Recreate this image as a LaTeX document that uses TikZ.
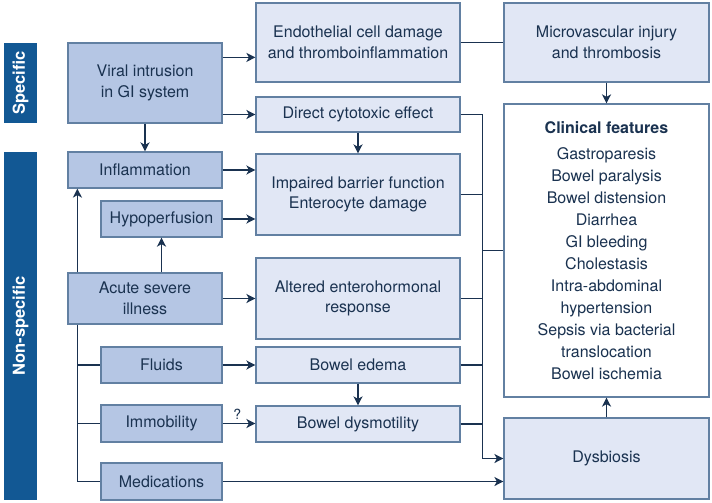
\documentclass[tikz,border=0pt]{standalone}
\usepackage{fontspec}
\setmainfont{TeX Gyre Heros}
\usetikzlibrary{arrows.meta}
\definecolor{band}{RGB}{18,88,148}
\definecolor{darkbox}{RGB}{181,198,228}
\definecolor{lightbox}{RGB}{225,231,245}
\definecolor{edge}{RGB}{98,128,162}
\definecolor{ink}{RGB}{26,50,80}
\newcommand{\linew}{1.7pt}
\newcommand{\boxw}{1.2pt}

\begin{document}
\begin{tikzpicture}[x=1pt,y=-1pt,
    font=\fontsize{16}{20.5}\selectfont, text=ink,
    cause/.style={draw=edge, line width=\boxw, fill=darkbox, align=center, inner sep=0pt},
    effect/.style={draw=edge, line width=\boxw, fill=lightbox, align=center, inner sep=0pt, minimum width=204pt},
    bandbox/.style={fill=band, text=white, inner sep=0pt, minimum height=33pt, rotate=90,
        font=\fontsize{16.5}{20}\selectfont\bfseries},
    arr/.style={draw=ink, line width=\linew, -{Stealth[length=9pt,width=9pt,inset=2.5pt]}},
    link/.style={draw=ink, line width=\linew}]
    %\draw[help lines] (0,0) grid[step=50] (712,503);
    \useasboundingbox (0,0) rectangle (712,503);

    \node[bandbox, minimum width=80pt] (spec) at (20.5,83) {Specific};
    \node[bandbox, minimum width=348pt] (nonspec) at (20.5,326) {Non-specific};

    % causes
    \node[cause, minimum width=154pt, minimum height=80pt] (viral) at (145,83) {Viral intrusion\\in GI system};
    \node[cause, minimum width=154pt, minimum height=36pt] (inflam) at (145,170) {Inflammation};
    \node[cause, minimum width=121pt, minimum height=36pt] (hypo) at (161.5,219) {Hypoperfusion};
    \node[cause, minimum width=154pt, minimum height=51pt] (acute) at (145,298.5) {Acute severe\\illness};
    \node[cause, minimum width=121pt, minimum height=36pt] (fluids) at (161.5,365) {Fluids};
    \node[cause, minimum width=121pt, minimum height=37pt] (immob) at (161.5,423.5) {Immobility};
    \node[cause, minimum width=121pt, minimum height=37pt] (medic) at (161.5,481.5) {Medications};

    % mechanisms
    \node[effect, minimum height=79pt] (endo) at (358,42.5) {Endothelial cell damage\\and thromboinflammation};
    \node[effect, minimum height=35pt] (direct) at (358,114.5) {Direct cytotoxic effect};
    \node[effect, minimum height=81pt] (impaired) at (358,194.5) {Impaired barrier function\\Enterocyte damage};
    \node[effect, minimum height=81pt] (altered) at (358,298.5) {Altered enterohormonal\\response};
    \node[effect, minimum height=36pt] (edema) at (358,365) {Bowel edema};
    \node[effect, minimum height=36pt] (dysmot) at (358,424) {Bowel dysmotility};

    % outcomes
    \node[effect, minimum width=205pt, minimum height=79pt] (micro) at (606.5,42.5) {Microvascular injury\\and thrombosis};
    \node[draw=edge, line width=\boxw, fill=white, align=center, inner sep=0pt,
        minimum width=205pt, minimum height=293pt, font=\fontsize{16}{22}\selectfont]
        (clinical) at (606.5,250.5) {\textbf{Clinical features}\\[4pt]Gastroparesis\\Bowel paralysis\\
        Bowel distension\\Diarrhea\\GI bleeding\\Cholestasis\\Intra-abdominal\\hypertension\\
        Sepsis via bacterial\\translocation\\Bowel ischemia};
    \node[effect, minimum width=205pt, minimum height=81pt] (dysb) at (606.5,458.5) {Dysbiosis};

    \draw[arr] ([yshift=-15pt]viral.north east) coordinate (v1) -- (v1 -| endo.west);
    \draw[arr] (viral.east |- direct.west) -- (direct.west);
    \draw[arr] (viral.south) -- (inflam.north);
    \draw[arr] (inflam.east) -- (inflam.east -| impaired.west);
    \draw[arr] (hypo.east) -- (hypo.east -| impaired.west);
    \draw[arr] (direct.south) -- (impaired.north);
    \draw[arr] (acute.east) -- (altered.west);
    \draw[arr] (acute.north -| hypo.south) -- (hypo.south);
    \draw[arr] ([xshift=10pt]acute.north west) -- ([xshift=10pt]inflam.south west);

    \coordinate (trunk) at ([xshift=10pt]acute.south west);
    \draw[link] (trunk) |- (medic.west);
    \draw[link] (trunk |- fluids.west) -- (fluids.west);
    \draw[link] (trunk |- immob.west) -- (immob.west);

    \draw[arr] (fluids.east) -- (edema.west);
    \draw[arr] (immob.east) -- (immob.east -| dysmot.west)
        node[pos=0.45, above=0pt, font=\fontsize{14}{14}\selectfont] {?};
    \draw[arr] (edema.south) -- (dysmot.north);
    \draw[arr] (medic.east) -- (medic.east -| dysb.west);

    \draw[link] (endo.east) -- (micro.west);
    \draw[arr] (micro.south) -- (clinical.north);
    \draw[arr] (dysb.north) -- (clinical.south);

    \coordinate (bus) at ([xshift=22pt]direct.east);
    \draw[arr] (direct.east) -- (bus) |- (dysb.west);
    \draw[link] (impaired.east) -- (impaired.east -| bus);
    \draw[link] (altered.east) -- (altered.east -| bus);
    \draw[link] (edema.east) -- (edema.east -| bus);
    \draw[link] (dysmot.east) -- (dysmot.east -| bus);
    \draw[link] (bus |- clinical.west) -- (clinical.west);
\end{tikzpicture}
\end{document}
